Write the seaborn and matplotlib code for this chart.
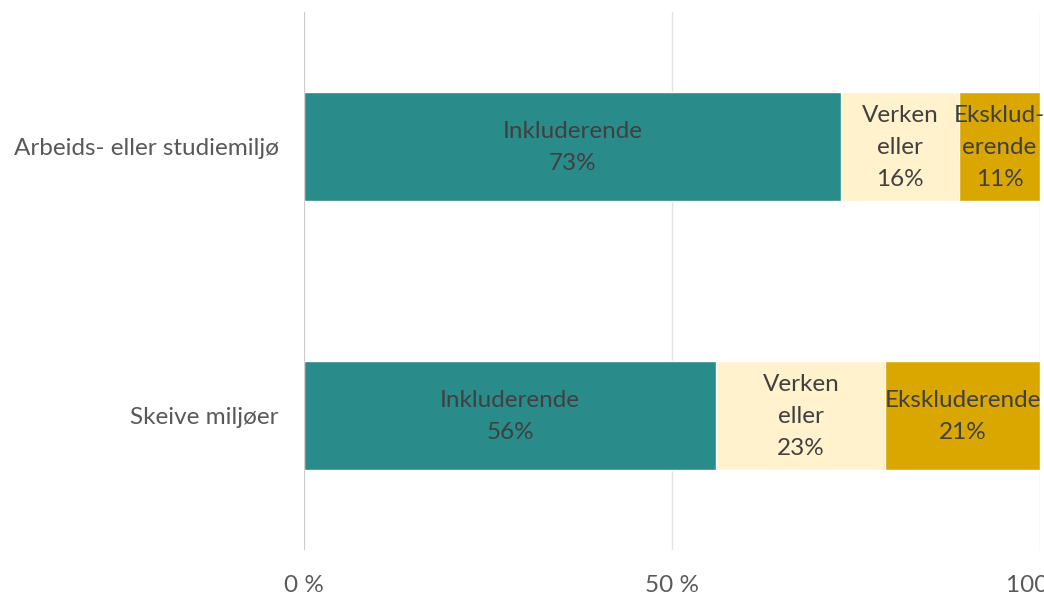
import numpy as np
import pandas as pd
import matplotlib
matplotlib.use("Agg")
import matplotlib.pyplot as plt
import seaborn as sns

# Data
categories = ["Arbeids- eller studiemiljø", "Skeive miljøer"]
inkluderende = [73, 56]
verken_eller = [16, 23]
ekskluderende = [11, 21]

segment_names = ["Inkluderende", "Verken eller", "Ekskluderende"]
segment_colors = ["#2A8C8A", "#FFF2CC", "#D9A700"]
# label text per bar segment (line breaks as in the source)
segment_labels = [
    ["Inkluderende", "Inkluderende"],
    ["Verken\neller", "Verken\neller"],
    ["Eksklud-\nerende", "Ekskluderende"],
]

sns.set_theme(style="white")
plt.rcParams["font.family"] = ["Lato", "DejaVu Sans"]

df = pd.DataFrame({
    "kategori": categories,
    "Inkluderende": inkluderende,
    "Verken eller": verken_eller,
    "Ekskluderende": ekskluderende,
})
values = df[segment_names].to_numpy()
cum = values.cumsum(axis=1)

fig = plt.figure(figsize=(10.44, 5.98), dpi=100)
ax = fig.add_axes([304 / 1044, 48 / 598, 736 / 1044, 538 / 598])

# draw cumulative bars widest first so each segment shows on top of the next
for i in reversed(range(len(segment_names))):
    sns.barplot(x=cum[:, i], y=df["kategori"], color=segment_colors[i],
                orient="h", width=0.405, saturation=1, ax=ax, zorder=3)

text_color = "#404040"
for row in range(len(categories)):
    for i in range(len(segment_names)):
        start = cum[row, i] - values[row, i]
        mid = start + values[row, i] / 2
        ax.text(mid, row + 0.005, f"{segment_labels[i][row]}\n{values[row, i]}%",
                ha="center", va="center", fontsize=17.5, color=text_color,
                linespacing=1.65, zorder=4)

ax.set_xlim(0, 100)
ax.set_ylim(1.5, -0.5)
ax.set_xticks([0, 50, 100])
ax.set_xticklabels(["0 %", "50 %", "100 %"])
ax.xaxis.grid(True, color="#E3E3E3", linewidth=1, zorder=0)
ax.axvline(0, color="#C8C8C8", linewidth=1.2, zorder=5)
ax.set_xlabel("")
ax.set_ylabel("")
for s in ax.spines.values():
    s.set_visible(False)
ax.tick_params(axis="x", length=0, pad=18, labelsize=17.5, labelcolor="#595959")
ax.tick_params(axis="y", length=0, pad=18, labelsize=17.5, labelcolor="#595959")

fig.savefig("out.png", dpi=100, facecolor="white")
